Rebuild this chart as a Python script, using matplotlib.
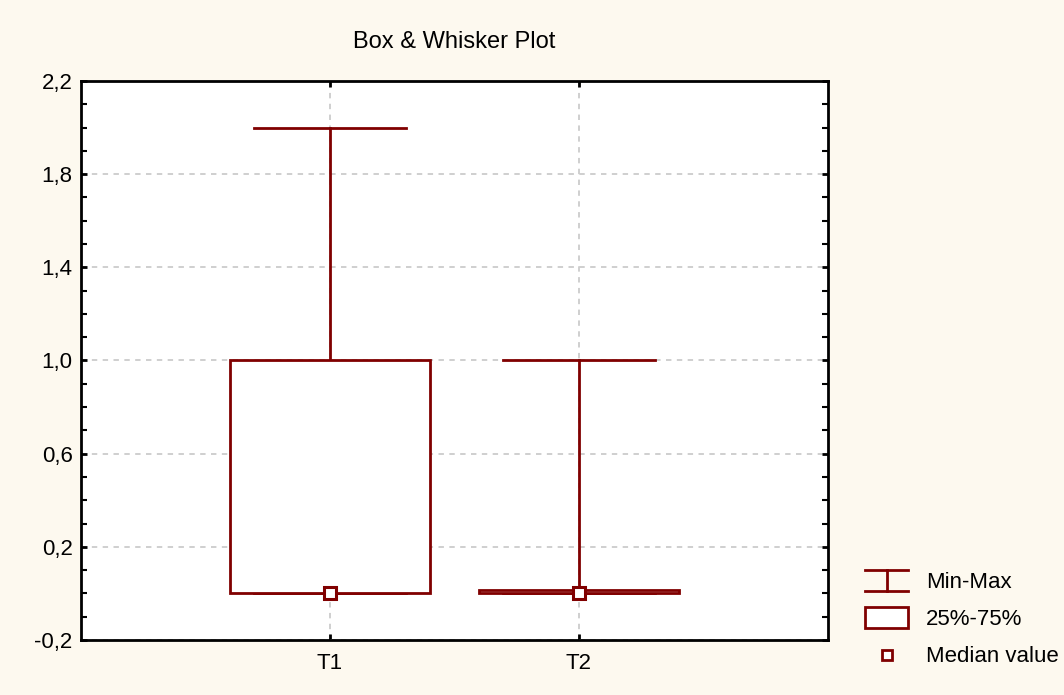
import matplotlib.pyplot as plt
from matplotlib.legend_handler import HandlerBase
from matplotlib.lines import Line2D
from matplotlib.patches import Rectangle
from matplotlib.ticker import MultipleLocator

plt.rcParams['font.family'] = ['Liberation Sans', 'DejaVu Sans']
plt.rcParams['font.size'] = 16

# data
groups = ['T1', 'T2']
mins = [0.0, 0.0]
maxs = [2.0, 1.0]
q25 = [0.0, 0.0]
q75 = [1.0, 0.013]
medians = [0.0, 0.0]
ytick_vals = [-0.2, 0.2, 0.6, 1.0, 1.4, 1.8, 2.2]
ytick_labels = ['-0,2', '0,2', '0,6', '1,0', '1,4', '1,8', '2,2']

red = '#800000'
bg = '#FDF9EF'

fig = plt.figure(figsize=(10.64, 6.95), dpi=100, facecolor=bg)
ax = fig.add_axes([0.0761, 0.0791, 0.7021, 0.8044])
ax.set_facecolor('white')

box_w = 0.8
cap_w = 0.61
for i, g in enumerate(groups):
    x = i + 1
    # whiskers and caps
    ax.plot([x, x], [q75[i], maxs[i]], color=red, lw=2, zorder=3)
    ax.plot([x, x], [mins[i], q25[i]], color=red, lw=2, zorder=3)
    ax.plot([x - cap_w / 2, x + cap_w / 2], [maxs[i], maxs[i]], color=red, lw=2, zorder=3)
    ax.plot([x - cap_w / 2, x + cap_w / 2], [mins[i], mins[i]], color=red, lw=2, zorder=3)
    # box
    ax.add_patch(Rectangle((x - box_w / 2, q25[i]), box_w, q75[i] - q25[i],
                           facecolor='white', edgecolor=red, lw=2, zorder=4))
    # median
    ax.plot([x], [medians[i]], marker='s', ms=9, mfc='white', mec=red, mew=2.2,
            zorder=5, ls='none')

ax.set_xlim(0, 3)
ax.set_ylim(-0.2, 2.2)
ax.set_xticks([1, 2])
ax.set_xticklabels(groups)
ax.set_yticks(ytick_vals)
ax.set_yticklabels(ytick_labels)
ax.yaxis.set_minor_locator(MultipleLocator(0.1))
ax.tick_params(direction='in', which='both', top=True, right=True, length=4, width=2,
               labelsize=16)
ax.tick_params(axis='x', pad=9)
ax.tick_params(axis='y', pad=6)
ax.tick_params(which='minor', length=4, width=1.5)
ax.grid(True, which='major', color='#CCCCCC', ls=(0, (3, 3)), lw=1.3)
ax.set_axisbelow(True)
for s in ax.spines.values():
    s.set_linewidth(2)
ax.set_title('Box & Whisker Plot', fontsize=17, pad=24)


class MinMaxHandler(HandlerBase):
    def create_artists(self, legend, orig_handle, xd, yd, w, h, fs, trans):
        y0, y1 = -yd, -yd + h
        xc = -xd + w / 2
        return [Line2D([-xd, -xd + w], [y0, y0], color=red, lw=2, transform=trans),
                Line2D([-xd, -xd + w], [y1, y1], color=red, lw=2, transform=trans),
                Line2D([xc, xc], [y0, y1], color=red, lw=2, transform=trans)]


class BoxHandler(HandlerBase):
    def create_artists(self, legend, orig_handle, xd, yd, w, h, fs, trans):
        return [Rectangle((-xd, -yd), w, h, facecolor='white',
                          edgecolor=red, lw=2, transform=trans)]


class MedHandler(HandlerBase):
    def create_artists(self, legend, orig_handle, xd, yd, w, h, fs, trans):
        return [Line2D([-xd + w / 2], [-yd + h / 2], marker='s', ms=7, mfc='white',
                       mec=red, mew=2, transform=trans)]


h1, h2, h3 = object(), object(), object()
fig.legend([h1, h2, h3], ['Min-Max', '25%-75%', 'Median value'],
           handler_map={h1: MinMaxHandler(), h2: BoxHandler(), h3: MedHandler()},
           loc='upper left', bbox_to_anchor=(0.813, 0.180), frameon=False,
           fontsize=16, handlelength=1.95, handleheight=1.1, handletextpad=0.8,
           labelspacing=0.62, borderaxespad=0, borderpad=0)

fig.savefig('out.png', dpi=100, facecolor=bg)
